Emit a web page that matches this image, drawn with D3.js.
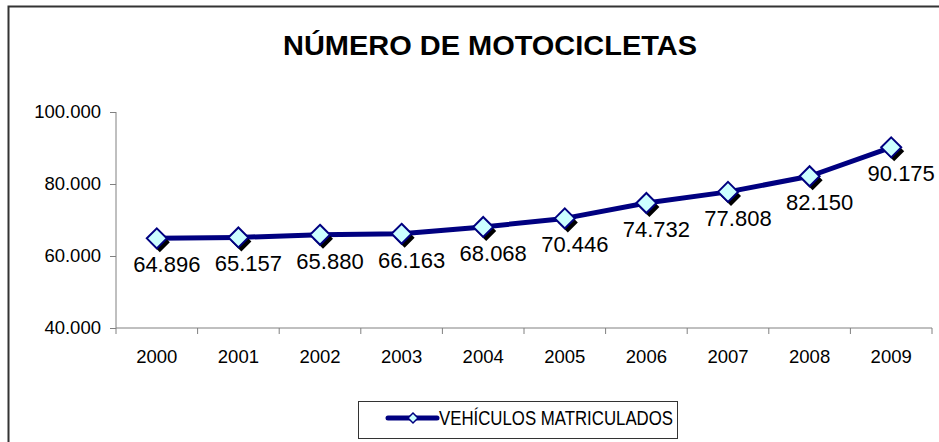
<!DOCTYPE html>
<html>
<head>
<meta charset="utf-8">
<script src="https://cdn.jsdelivr.net/npm/d3@7/dist/d3.min.js"></script>
<style>
  body { margin: 0; background: #fff; }
  svg { display: block; font-family: "Liberation Sans", Arial, sans-serif; }
  .axis path, .axis line { stroke: #808080; stroke-width: 1; }
  .axis text { fill: #000; font-size: 18.5px; }
</style>
</head>
<body>
<div id="line-chart"></div>
<script>
// Data
var years = ["2000", "2001", "2002", "2003", "2004", "2005", "2006", "2007", "2008", "2009"];
var motos = [64896, 65157, 65880, 66163, 68068, 70446, 74732, 77808, 82150, 90175];
var yTicks = [40000, 60000, 80000, 100000];
var seriesName = "VEHÍCULOS MATRICULADOS";
var title = "NÚMERO DE MOTOCICLETAS";

var fmt = d => d3.format(",")(d).replace(/,/g, ".");

var render = function() {
  var width = 939, height = 442;
  var margins = { top: 112, right: 7, bottom: 114, left: 116 };
  var chartWidth = width - margins.left - margins.right;
  var chartHeight = height - margins.top - margins.bottom;

  var svg = d3.select("#line-chart").html("")
    .append("svg")
    .attr("width", width)
    .attr("height", height);

  // outer frame (right / bottom edge fall outside the picture)
  svg.append("rect")
    .attr("x", 8.5).attr("y", 6.5)
    .attr("width", 1000).attr("height", 1000)
    .attr("fill", "none")
    .attr("stroke", "#333")
    .attr("stroke-width", 2);

  svg.append("text")
    .attr("x", 490).attr("y", 55)
    .attr("text-anchor", "middle")
    .attr("font-weight", "bold")
    .attr("font-size", "28px")
    .attr("textLength", 414)
    .attr("lengthAdjust", "spacingAndGlyphs")
    .text(title);

  var chart = svg.append("g")
    .attr("transform", `translate(${margins.left},${margins.top})`);

  var xScale = d3.scaleBand()
    .domain(years)
    .range([0, chartWidth]);

  var yScale = d3.scaleLinear()
    .domain([40000, 100000])
    .range([chartHeight, 0]);

  var xAxis = d3.axisBottom(xScale).tickSize(0).tickPadding(22);
  var yAxis = d3.axisLeft(yScale).tickValues(yTicks).tickSize(6).tickPadding(9).tickFormat(fmt);

  var gx = chart.append("g")
    .attr("class", "x axis")
    .attr("transform", `translate(0,${chartHeight})`)
    .call(xAxis);
  gx.select(".domain").attr("d", `M0,0H${chartWidth}`);
  // category boundary ticks
  gx.selectAll(".sep")
    .data(years.concat(["end"]))
    .enter().append("line")
    .attr("class", "sep")
    .attr("x1", (d, i) => i * xScale.step())
    .attr("x2", (d, i) => i * xScale.step())
    .attr("y1", 0).attr("y2", 6);

  var gy = chart.append("g")
    .attr("class", "y axis")
    .call(yAxis);
  gy.select(".domain").attr("d", `M0,0V${chartHeight}`);

  var cx = d => xScale(d) + xScale.bandwidth() / 2;
  var points = years.map((y, i) => ({ year: y, value: motos[i] }));

  var line = d3.line()
    .x(d => cx(d.year))
    .y(d => yScale(d.value));

  chart.append("path")
    .datum(points)
    .attr("d", line)
    .attr("fill", "none")
    .attr("stroke", "#000080")
    .attr("stroke-width", 5)
    .attr("stroke-linejoin", "round");

  var diamond = r => `M0,${-r}L${r},0L0,${r}L${-r},0Z`;

  // marker shadows
  chart.append("g").selectAll("path")
    .data(points).enter().append("path")
    .attr("d", diamond(10))
    .attr("transform", d => `translate(${cx(d.year) + 3},${yScale(d.value) + 4})`)
    .attr("fill", "#000");

  chart.append("g").selectAll("path")
    .data(points).enter().append("path")
    .attr("d", diamond(10))
    .attr("transform", d => `translate(${cx(d.year)},${yScale(d.value)})`)
    .attr("fill", "#ccffff")
    .attr("stroke", "#000080")
    .attr("stroke-width", 2);

  chart.append("g").selectAll("text")
    .data(points).enter().append("text")
    .attr("x", d => cx(d.year) + 10)
    .attr("y", d => yScale(d.value) + 34)
    .attr("text-anchor", "middle")
    .attr("font-size", "22px")
    .text(d => fmt(d.value));

  // legend
  var legend = svg.append("g").attr("class", "legend");
  legend.append("rect")
    .attr("x", 358.5).attr("y", 401.5)
    .attr("width", 319).attr("height", 37)
    .attr("fill", "#fff")
    .attr("stroke", "#333")
    .attr("stroke-width", 1);
  legend.append("line")
    .attr("x1", 388).attr("x2", 437)
    .attr("y1", 418).attr("y2", 418)
    .attr("stroke", "#000080")
    .attr("stroke-width", 5)
    .attr("stroke-linecap", "round");
  legend.append("path")
    .attr("d", diamond(5))
    .attr("transform", "translate(413,418)")
    .attr("fill", "#ccffff")
    .attr("stroke", "#000080")
    .attr("stroke-width", 1.5);
  legend.append("text")
    .attr("x", 439).attr("y", 425)
    .attr("font-size", "19.5px")
    .attr("textLength", 234)
    .attr("lengthAdjust", "spacingAndGlyphs")
    .text(seriesName);
};

render();
</script>
</body>
</html>
